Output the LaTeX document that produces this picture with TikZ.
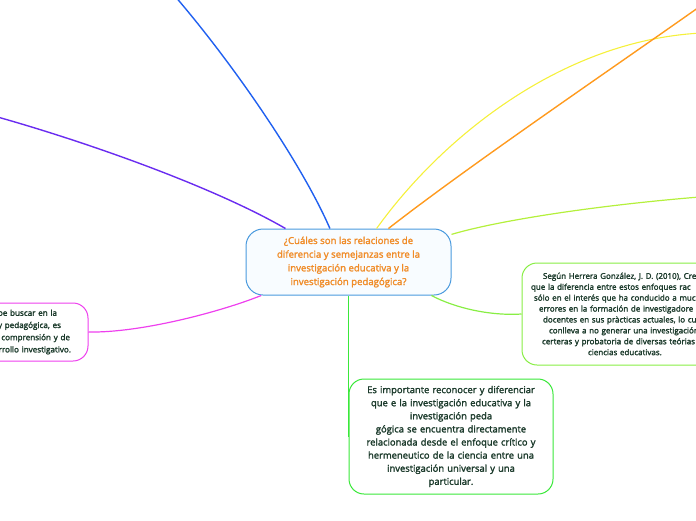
\documentclass[tikz,border=0pt]{standalone}
\usepackage{fontspec}
\setmainfont{Open Sans}[FakeBold=0.4]
\newfontfamily\mapfont{Open Sans}[FakeBold=2]
\definecolor{textgreen}{RGB}{27,58,43}
\definecolor{rootorange}{RGB}{240,140,40}
\definecolor{rootblue}{RGB}{74,154,222}
\definecolor{rootfill}{RGB}{248,252,255}
\definecolor{bluebranch}{RGB}{32,96,240}
\definecolor{purplebranch}{RGB}{106,44,240}
\definecolor{yellowbranch}{RGB}{245,240,58}
\definecolor{orangebranch}{RGB}{255,154,30}
\definecolor{limebranch}{RGB}{180,240,60}
\definecolor{rightbranch}{RGB}{136,238,68}
\definecolor{greenbranch}{RGB}{58,232,58}
\definecolor{magentabranch}{RGB}{238,64,238}
\tikzset{topic/.style={rounded corners=15pt, line width=1pt, fill=white, text=textgreen, inner ysep=0pt},
  branch/.style={line width=1.4pt}}

\begin{document}
\begin{tikzpicture}[x=1pt, y=-1pt]
        \useasboundingbox (0,0) rectangle (696,520);
        % central topic
        \node[topic, draw=rootblue, fill=rootfill, text=rootorange, align=center,
              minimum width=205pt, minimum height=66pt, rounded corners=17pt,
              font=\mapfont\fontsize{9.6}{13.7}\selectfont] (root) at (348.5,262)
              {¿Cuáles son las relaciones de\\diferencia y semejanzas entre la\\investigación educativa y la\\investigación pedagógica?};
        % subtopics
        \node[topic, draw=greenbranch, align=center, text width=200pt, inner xsep=2pt,
              minimum height=115pt, font=\mapfont\fontsize{9.4}{13.1}\selectfont] (imp) at (451,436.5)
              {Es importante reconocer y diferenciar\\que e la investigación educativa y la\\investigación peda\\gógica se encuentra directamente\\relacionada desde el enfoque crítico y\\hermeneutico de la ciencia entre una\\investigación universal y una\\particular.};
        \node[topic, draw=rightbranch, align=left, text width=206pt, inner xsep=0pt,
              minimum height=102pt, font=\mapfont\fontsize{8}{10.9}\selectfont] (seg) at (625,314)
              {\hspace*{21pt}Según Herrera González, J. D. (2010), Cre\\\hspace*{9pt}que la diferencia entre estos enfoques rac\\\hspace*{12pt}sólo en el interés que ha conducido a muc\\\hspace*{17pt}errores en la formación de investigadore\\\hspace*{21pt}docentes en sus pràcticas actuales, lo cu\\\hspace*{27pt}conlleva a no generar una investigación\\\hspace*{20pt}certeras y probatoria de diversas teórias\\\hspace*{66pt}ciencias educativas.};
        \node[topic, draw=magentabranch, align=right, text width=205pt, inner xsep=0pt,
              minimum height=58pt, font=\mapfont\fontsize{8.1}{12.2}\selectfont] (bus) at (-14.5,332)
              {be buscar en la\rule{31pt}{0pt}\\y pedagógica, es\rule{27pt}{0pt}\\comprensión y de\rule{18pt}{0pt}\\rrollo investigativo.\rule{17pt}{0pt}};
        % branch ends outside the page
        \coordinate (blueEnd) at (174,-5);
        \coordinate (purpleEnd) at (-6,116);
        \coordinate (yellowEnd) at (702,33);
        \coordinate (orangeEnd) at (702,5);
        \coordinate (limeEnd) at (702,196.8);
        % connectors
        \draw[branch, bluebranch] (root.119) .. controls (300,160) and (230,60) .. (blueEnd);
        \draw[branch, purplebranch] (root.152) .. controls (210,185) and (80,140) .. (purpleEnd);
        \draw[branch, yellowbranch, line width=1.1pt] (root.50) .. controls (440,140) and (560,40) .. (yellowEnd);
        \draw[branch, orangebranch] (root.40) .. controls (470,165) and (610,70) .. (orangeEnd);
        \draw[branch, limebranch, line width=1.2pt] (root.15) .. controls (500,220) and (600,205) .. (limeEnd);
        \draw[branch, rightbranch, line width=1.2pt] (root.338) .. controls (455,308) and (490,316) .. (seg.west);
        \draw[branch, greenbranch] (root.south) -- (root.south |- imp.west);
        \draw[branch, magentabranch, line width=1.2pt] (root.201) .. controls (220,312) and (140,333) .. (bus.east);
\end{tikzpicture}
\end{document}
